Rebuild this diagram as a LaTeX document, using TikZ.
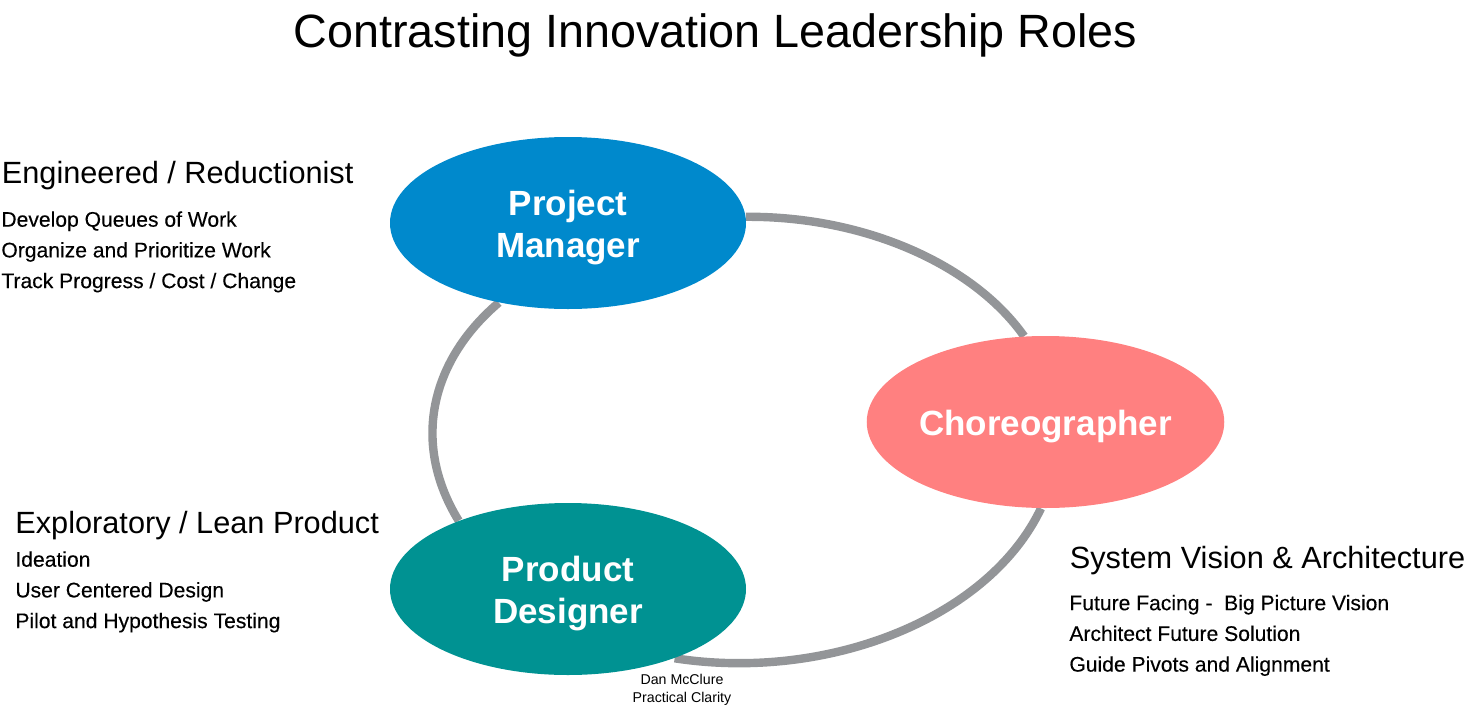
\documentclass[tikz,border=0pt]{standalone}
\usepackage{fontspec}
\setmainfont{Liberation Sans}
\newfontfamily\itemfont[FakeBold=0.2]{Liberation Sans}
\usetikzlibrary{positioning,calc,shapes.geometric,backgrounds}
\definecolor{ringgray}{HTML}{939598}
\definecolor{pmblue}{HTML}{0089CC}
\definecolor{chpink}{HTML}{FF8080}
\definecolor{pdteal}{HTML}{009292}
\newcommand{\rolelift}{\rule{0pt}{17.5pt}}
\tikzset{
    role/.style={ellipse,minimum width=178pt,minimum height=86pt,inner sep=0pt,text=white,align=center,font=\fontsize{17.5}{21}\selectfont\bfseries},
    head/.style={anchor=base west,inner sep=0pt,font=\fontsize{15.35}{19}\selectfont},
    items/.style={anchor=north west,inner sep=0pt,align=left,font=\itemfont\fontsize{10.55}{15.35}\selectfont},
    ring/.style={ringgray,line width=4.2pt},
}
\begin{document}
\begin{tikzpicture}[x=0.5pt,y=-0.5pt]
    \useasboundingbox (0,0) rectangle (1464,713);
    \node[role,fill=pmblue] (manager) at (568,223) {\rolelift Project\\Manager};
    \node[role,fill=chpink] (choreographer) at (1045.5,422) {\rolelift Choreographer};
    \node[role,fill=pdteal] (designer) at (568,589) {\rolelift Product\\Designer};

    % ring behind the ovals
    \begin{scope}[on background layer]
        \draw[ring] (manager.2) .. controls (864,216) and (973,264) .. (choreographer.104);
        \draw[ring] (choreographer.267) .. controls (989,618) and (828,682) .. (designer.327);
        \draw[ring] (designer.148) .. controls (412,445) and (429,362) .. (manager.229);
    \end{scope}

    \node[anchor=base,inner sep=0pt,font=\fontsize{23.35}{28}\selectfont] (title) at (715.5,47) {Contrasting Innovation Leadership Roles};

    \node[head] (enghead) at (1.5,183) {Engineered / Reductionist};
    \node[items] (engitems) at (1,211) {Develop Queues of Work\\Organize and Prioritize Work\\Track Progress / Cost / Change};
    \node[head] (exphead) at (15,533.5) {Exploratory / Lean Product};
    \node[items] (expitems) at (15,551) {Ideation\\User Centered Design\\Pilot and Hypothesis Testing};
    \node[head] (syshead) at (1069.5,568) {System Vision \& Architecture};
    \node[items] (sysitems) at (1069,594.5) {Future Facing -\ \ Big Picture Vision\\Architect Future Solution\\Guide Pivots and Alignment};

    \node[anchor=north,inner sep=0pt,align=center,font=\fontsize{7.1}{9}\selectfont] (credit) at (682,674) {Dan McClure\\Practical Clarity};
\end{tikzpicture}
\end{document}
